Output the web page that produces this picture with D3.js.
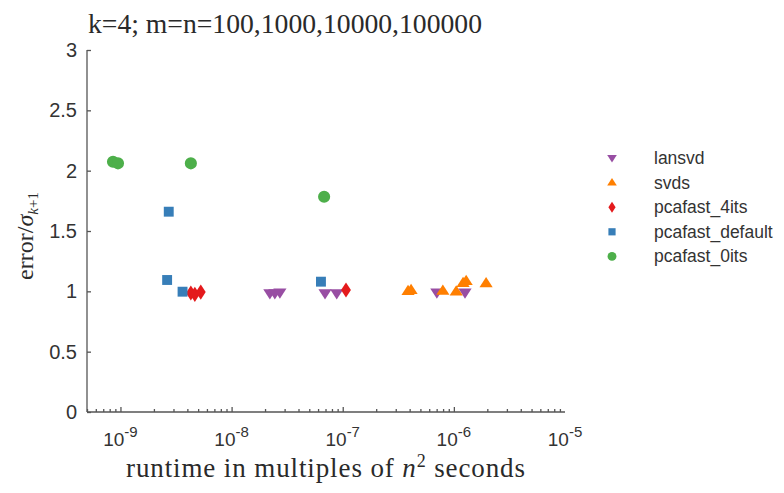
<!DOCTYPE html>
<html lang="en">
<head>
  <meta charset="UTF-8">
  <title>k=4 error vs runtime</title>
  <style>
    body { margin: 0; background: #fff; }
    .axis path, .axis line { stroke: #555; stroke-width: 1.3; }
    .axis text { font-family: "Liberation Sans", Arial, sans-serif; fill: #333; }
    .serif { font-family: "Liberation Serif", "Times New Roman", serif; fill: #2a2a2a; }
    .legend text { font-family: "Liberation Sans", Arial, sans-serif; font-size: 17.5px; fill: #333; }
  </style>
</head>
<body>
  <div id="chart"></div>
  <script src="https://d3js.org/d3.v7.min.js"></script>
  <script>
    // series: runtime (n^2 seconds) and error / sigma_{k+1}
    const seriesNames = ["lansvd", "svds", "pcafast_4its", "pcafast_default", "pcafast_0its"];
    const lansvdX = [2.21e-8, 2.45e-8, 2.72e-8, 6.93e-8, 8.83e-8, 7.03e-7, 1.26e-6];
    const lansvdY = [0.985, 0.985, 0.99, 0.985, 0.985, 0.99, 0.99];
    const svdsX = [3.87e-7, 4.12e-7, 7.96e-7, 1.05e-6, 1.21e-6, 1.29e-6, 1.95e-6];
    const svdsY = [1.003, 1.01, 1.005, 0.998, 1.069, 1.086, 1.067];
    const fourItsX = [4.3e-9, 4.67e-9, 5.28e-9, 1.07e-7];
    const fourItsY = [0.986, 0.975, 0.994, 1.011];
    const defaultX = [2.72e-9, 2.63e-9, 3.62e-9, 6.37e-8];
    const defaultY = [1.66, 1.094, 0.997, 1.08];
    const zeroItsX = [8.57e-10, 9.5e-10, 4.3e-9, 6.8e-8];
    const zeroItsY = [2.074, 2.061, 2.061, 1.784];
    const xTicks = [1e-9, 1e-8, 1e-7, 1e-6, 1e-5];
    const yTicks = [0, 0.5, 1, 1.5, 2, 2.5, 3];

    const colors = ["#984ea3", "#ff7f00", "#e41a1c", "#377eb8", "#4daf4a"];
    const shapes = ["down", "up", "diamond", "square", "circle"];
    const xs = [lansvdX, svdsX, fourItsX, defaultX, zeroItsX];
    const ys = [lansvdY, svdsY, fourItsY, defaultY, zeroItsY];

    const width = 784, height = 493;
    const svg = d3.select('#chart').append('svg')
      .attr('width', width).attr('height', height);

    const xScale = d3.scaleLog().domain([5e-10, 1e-5]).range([87, 565]);
    const yScale = d3.scaleLinear().domain([0, 3]).range([412, 50]);

    function markerPath(shape, s) {
      if (shape === 'down') return `M${-s},${-s * 0.6}L${s},${-s * 0.6}L0,${s * 0.95}Z`;
      if (shape === 'up') return `M${-s},${s * 0.6}L${s},${s * 0.6}L0,${-s * 0.95}Z`;
      if (shape === 'diamond') return `M0,${-s * 1.15}L${s * 0.75},0L0,${s * 1.15}L${-s * 0.75},0Z`;
      if (shape === 'square') return `M${-s * 0.75},${-s * 0.75}h${s * 1.5}v${s * 1.5}h${-s * 1.5}Z`;
      return d3.symbol().type(d3.symbolCircle).size(Math.PI * s * s * 0.85)();
    }

    // minor ticks for the log axis
    const minorTicks = [];
    for (let e = -10; e < -5; e++) {
      for (let m = 1; m < 10; m++) {
        const v = m * Math.pow(10, e);
        if (v >= 5e-10 && v <= 1e-5) minorTicks.push(v);
      }
    }

    const xAxis = svg.append('g').attr('class', 'axis')
      .attr('transform', 'translate(0,412)')
      .call(d3.axisBottom(xScale).tickValues(minorTicks).tickSize(-3).tickFormat(''));
    xAxis.select('.domain').attr('d', `M87,0H565`);
    xAxis.selectAll('.tick line').filter(d => xTicks.includes(d)).attr('y2', -5);

    xTicks.forEach(v => {
      const t = svg.append('text').attr('class', 'axis')
        .attr('x', xScale(v)).attr('y', 446)
        .attr('text-anchor', 'middle')
        .style('font-family', '"Liberation Sans", Arial, sans-serif')
        .style('font-size', '19px').style('fill', '#333');
      t.append('tspan').text('10');
      t.append('tspan').attr('dy', -9).style('font-size', '15px')
        .text('-' + Math.round(-Math.log10(v)));
    });

    const yAxis = svg.append('g').attr('class', 'axis')
      .attr('transform', 'translate(87,0)')
      .call(d3.axisLeft(yScale).tickValues(yTicks).tickSize(-4).tickPadding(10)
        .tickFormat(d3.format('')));
    yAxis.select('.domain').attr('d', 'M0,412V50');
    yAxis.selectAll('text').style('font-size', '20px');

    // points
    xs.forEach((xv, i) => {
      svg.append('g').selectAll('path')
        .data(xv.map((x, j) => [x, ys[i][j]]))
        .join('path')
        .attr('transform', d => `translate(${xScale(d[0])},${yScale(d[1])})`)
        .attr('d', markerPath(shapes[i], 6.6))
        .attr('fill', colors[i]);
    });

    // title
    svg.append('text').attr('class', 'serif')
      .attr('x', 88).attr('y', 33)
      .attr('textLength', 394).attr('lengthAdjust', 'spacingAndGlyphs')
      .style('font-size', '27.5px')
      .text('k=4; m=n=100,1000,10000,100000');

    // x label
    const xl = svg.append('text').attr('class', 'serif')
      .attr('x', 126).attr('y', 477)
      .attr('textLength', 399).attr('lengthAdjust', 'spacing')
      .style('font-size', '27px');
    xl.append('tspan').text('runtime in multiples of ');
    xl.append('tspan').style('font-style', 'italic').text('n');
    xl.append('tspan').attr('dy', -10).style('font-size', '18px').text('2');
    xl.append('tspan').attr('dy', 10).text(' seconds');

    // y label
    const yl = svg.append('text').attr('class', 'serif')
      .attr('transform', 'translate(33,236) rotate(-90)')
      .attr('text-anchor', 'middle')
      .style('font-size', '24px');
    yl.append('tspan').text('error/');
    yl.append('tspan').style('font-style', 'italic').text('σ');
    yl.append('tspan').attr('dy', 5).style('font-size', '15px').style('font-style', 'italic').text('k');
    yl.append('tspan').attr('dy', 0).style('font-size', '15px').text('+1');

    // legend
    const legend = svg.append('g').attr('class', 'legend');
    seriesNames.forEach((name, i) => {
      const y = 158 + i * 24.6;
      legend.append('path')
        .attr('transform', `translate(612,${y})`)
        .attr('d', markerPath(shapes[i], 4.8))
        .attr('fill', colors[i]);
      legend.append('text').attr('x', 654).attr('y', y + 6).text(name);
    });
  </script>
</body>
</html>
